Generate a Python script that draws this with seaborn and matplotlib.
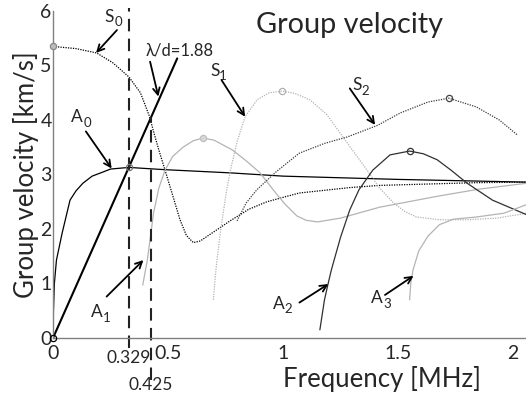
import numpy as np
import matplotlib
matplotlib.use('Agg')
import matplotlib.pyplot as plt
import seaborn as sns

sns.set_theme(style='white')
plt.rcParams['font.family'] = ['Lato', 'DejaVu Sans']

# ---- dispersion curves (f in MHz, v in km/s) ----
a0_f = [0.0, 0.002, 0.006, 0.015, 0.04, 0.074, 0.10, 0.13, 0.17, 0.22, 0.25, 0.33, 0.48, 0.77, 1.0, 1.5, 2.06]
a0_v = [0.0, 0.5, 1.0, 1.43, 1.93, 2.53, 2.70, 2.84, 2.97, 3.05, 3.10, 3.13, 3.09, 3.03, 2.97, 2.91, 2.86]

s0_f = [0.0, 0.10, 0.19, 0.26, 0.33, 0.38, 0.42, 0.435, 0.46, 0.487, 0.52, 0.552, 0.58, 0.61, 0.64, 0.668,
        0.77, 0.85, 0.93, 1.07, 1.29, 1.42, 1.67, 1.84, 2.06]
s0_v = [5.35, 5.31, 5.23, 5.05, 4.79, 4.50, 4.06, 3.82, 3.45, 3.08, 2.62, 2.17, 1.88, 1.75, 1.78, 1.86,
        2.15, 2.36, 2.50, 2.66, 2.76, 2.80, 2.83, 2.85, 2.86]

a1_f = [0.39, 0.40, 0.41, 0.437, 0.46, 0.487, 0.52, 0.565, 0.61, 0.652, 0.70, 0.78, 0.84, 0.90, 0.97,
        1.01, 1.06, 1.10, 1.15, 1.25, 1.42, 1.67, 1.85, 2.06]
a1_v = [0.97, 1.20, 1.43, 2.29, 2.75, 3.08, 3.33, 3.50, 3.62, 3.67, 3.63, 3.45, 3.25, 3.03, 2.65,
        2.45, 2.24, 2.16, 2.13, 2.20, 2.40, 2.60, 2.73, 2.84]

s1_f = [0.697, 0.705, 0.712, 0.725, 0.74, 0.755, 0.775, 0.80, 0.835, 0.887, 0.94, 0.996, 1.05, 1.117,
        1.19, 1.26, 1.31, 1.365, 1.42, 1.48, 1.53, 1.58, 1.68, 1.80, 1.93, 2.06]
s1_v = [0.70, 1.10, 1.40, 1.86, 2.30, 2.72, 3.15, 3.60, 4.06, 4.37, 4.50, 4.53, 4.49, 4.37,
        4.10, 3.69, 3.40, 3.08, 2.75, 2.48, 2.32, 2.22, 2.17, 2.17, 2.20, 2.29]

s2_f = [0.80, 0.84, 0.886, 0.97, 1.07, 1.18, 1.28, 1.41, 1.51, 1.63, 1.72, 1.84, 1.94, 2.02]
s2_v = [2.15, 2.48, 2.72, 3.05, 3.39, 3.57, 3.69, 3.90, 4.13, 4.33, 4.40, 4.24, 4.00, 3.72]

a2_f = [1.16, 1.18, 1.196, 1.21, 1.25, 1.29, 1.33, 1.39, 1.465, 1.55, 1.61, 1.67, 1.73, 1.80, 1.91, 2.06]
a2_v = [0.15, 0.70, 1.00, 1.25, 1.85, 2.35, 2.72, 3.08, 3.36, 3.43, 3.38, 3.27, 3.08, 2.84, 2.53, 2.26]

a3_f = [1.55, 1.555, 1.565, 1.59, 1.63, 1.68, 1.74, 1.84, 1.96, 2.06]
a3_v = [0.70, 1.00, 1.25, 1.60, 1.87, 2.08, 2.18, 2.22, 2.29, 2.45]

# lambda/d = 1.88 line and the two marked frequencies
lam_f = [0.0, 0.54]
lam_v = [0.0, 5.13]
f_cross = [0.329, 0.425]
v_cross = [3.13, 4.06]

x_ticks = [0, 0.5, 1, 1.5, 2]
y_ticks = [0, 1, 2, 3, 4, 5, 6]

fig = plt.figure(figsize=(5.26, 3.96), dpi=100)
ax = fig.add_axes([53 / 526, 58 / 396, 473 / 526, 327 / 396])

dot = (0, (1, 1))
curves = [
    (a0_f, a0_v, 'black', '-', 0.9),
    (s0_f, s0_v, 'black', dot, 0.9),
    (a1_f, a1_v, '#b4b4b4', '-', 0.9),
    (s1_f, s1_v, '#b4b4b4', dot, 0.9),
    (s2_f, s2_v, '#3c3c3c', dot, 0.9),
    (a2_f, a2_v, '#303030', '-', 0.9),
    (a3_f, a3_v, '#b4b4b4', '-', 0.9),
]
for f, v, col, ls, lw in curves:
    sns.lineplot(x=f, y=v, ax=ax, color=col, linestyle=ls, linewidth=lw, sort=False, estimator=None)

sns.lineplot(x=lam_f, y=lam_v, ax=ax, color='black', linewidth=1.5, sort=False, estimator=None)

# dashed vertical markers
ax.plot([f_cross[0], f_cross[0]], [-0.18, 6.05], color='#222222', lw=1.5, ls=(0, (6, 3.5)), clip_on=False)
ax.plot([f_cross[1], f_cross[1]], [-0.77, v_cross[1]], color='#222222', lw=1.5, ls=(0, (6, 3.5)), clip_on=False)

# little circle markers
marks = [
    (0.0, 5.35, '#888888', '#bbbbbb'),
    (0.329, 3.13, '#777777', 'none'),
    (0.652, 3.67, '#c0c0c0', '#d8d8d8'),
    (0.996, 4.53, '#b0b0b0', 'none'),
    (1.72, 4.40, '#444444', 'none'),
    (1.55, 3.43, '#333333', 'none'),
    (0.0, 0.0, 'black', 'none'),
]
for mx, my, ec, fc in marks:
    ax.plot(mx, my, 'o', ms=4.5, mec=ec, mfc=fc, mew=0.9, clip_on=False, zorder=5)

# mode labels (letter + subscript) with arrows
arrow = dict(arrowstyle='->', color='black', lw=1.3, shrinkA=0, shrinkB=0)
notes = [
    ('S', '0', (0.26, 5.87), (0.278, 5.65), (0.187, 5.23)),
    ('A', '0', (0.125, 4.03), (0.143, 3.79), (0.255, 3.11)),
    ('S', '1', (0.717, 4.88), (0.733, 4.73), (0.835, 4.06)),
    ('S', '2', (1.335, 4.61), (1.29, 4.58), (1.40, 3.91)),
    ('A', '1', (0.212, 0.45), (0.233, 0.76), (0.393, 1.43)),
    ('A', '2', (1.0, 0.60), (1.071, 0.65), (1.197, 0.99)),
    ('A', '3', (1.429, 0.70), (1.443, 0.79), (1.567, 1.14)),
]
for letter, sub, tpos, tail, head in notes:
    ax.annotate(letter, xy=tpos, xytext=(1, 1), textcoords='offset points',
                ha='right', va='center', fontsize=12.5)
    ax.annotate(sub, xy=tpos, xytext=(1, -3), textcoords='offset points',
                ha='left', va='center', fontsize=9.5)
    ax.annotate('', xy=head, xytext=tail, arrowprops=arrow)

ax.text(0.402, 5.28, 'λ/d=1.88', ha='left', va='center', fontsize=12)
ax.annotate('', xy=(0.458, 4.43), xytext=(0.422, 5.07), arrowprops=arrow)

ax.text(1.29, 5.74, 'Group velocity', ha='center', va='center', fontsize=20.8)

ax.text(f_cross[0], -0.36, '0.329', ha='center', va='center', fontsize=12.5)
ax.text(f_cross[1], -0.87, '0.425', ha='center', va='center', fontsize=12.5, clip_on=False)

ax.set_xlim(0, 2.056)
ax.set_ylim(0, 6)
ax.set_xticks(x_ticks)
ax.set_xticklabels(['0', '0.5', '1', '1.5', '2'])
ax.set_yticks(y_ticks)
ax.tick_params(axis='both', direction='in', length=4, width=1, color='#808080', labelsize=14)
ax.tick_params(axis='x', pad=5)
ax.tick_params(axis='y', pad=1)

sns.despine(ax=ax)
for s in ['left', 'bottom']:
    ax.spines[s].set_color('#808080')
    ax.spines[s].set_linewidth(1.0)

ax.set_ylabel('Group velocity [km/s]', fontsize=18.5, labelpad=1)
ax.set_xlabel('Frequency [MHz]', fontsize=18.5)
ax.xaxis.set_label_coords(0.696, -0.085)

fig.savefig('out.png', dpi=100)
